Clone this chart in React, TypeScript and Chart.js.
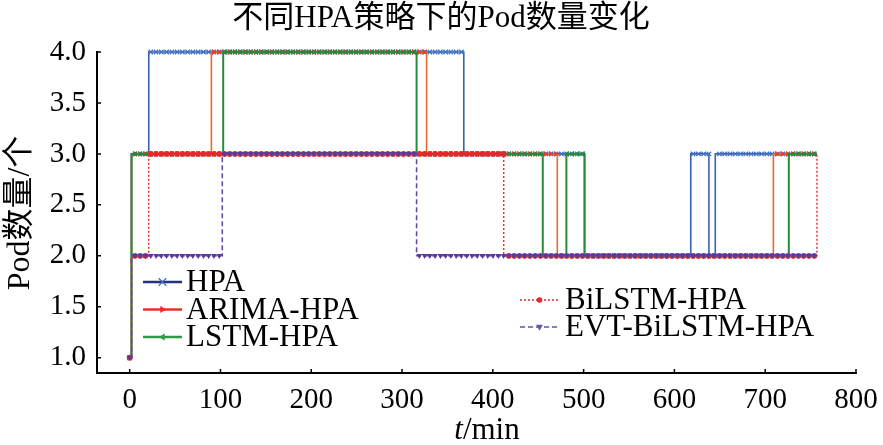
import React, { useEffect, useRef } from 'react';
import { Chart, registerables } from 'chart.js';

Chart.register(...registerables);

// change points of each step series (time in min -> Pod count from that time on)
const hpaTimes = [0, 2, 21, 368, 501, 618, 638, 645, 757];
const hpaPods = [1, 3, 4, 3, 2, 3, 2, 3, 3];
const arimaTimes = [0, 2, 90, 327, 471, 709, 757];
const arimaPods = [1, 3, 4, 3, 2, 3, 3];
const lstmTimes = [0, 2, 103, 316, 455, 481, 501, 726, 757];
const lstmPods = [1, 3, 4, 3, 2, 3, 2, 3, 3];
const bilstmTimes = [0, 2, 21, 412, 757];
const bilstmPods = [1, 2, 3, 2, 3];
const evtTimes = [0, 2, 102, 316, 757];
const evtPods = [1, 2, 3, 2, 2];

const xTicks = [0, 100, 200, 300, 400, 500, 600, 700, 800];
const yTicks = [1.0, 1.5, 2.0, 2.5, 3.0, 3.5, 4.0];

const FONT = '"Liberation Serif", "Noto Sans CJK SC", serif';
const MARK_STEP = 5.8; // minutes between markers along a line

const toPoints = (ts: number[], vs: number[]) => ts.map((t, i) => ({ x: t, y: vs[i] }));

function drawMarker(ctx: CanvasRenderingContext2D, kind: string, x: number, y: number, r: number, color: string, rot = 0) {
  ctx.save();
  ctx.translate(x, y);
  ctx.fillStyle = color;
  ctx.strokeStyle = color;
  ctx.setLineDash([]);
  if (kind === 'cross') {
    ctx.lineWidth = 1.3;
    ctx.beginPath();
    ctx.moveTo(-r, -r); ctx.lineTo(r, r);
    ctx.moveTo(-r, r); ctx.lineTo(r, -r);
    ctx.stroke();
  } else if (kind === 'circle') {
    ctx.beginPath();
    ctx.arc(0, 0, r, 0, Math.PI * 2);
    ctx.fill();
  } else {
    ctx.rotate((rot * Math.PI) / 180);
    ctx.beginPath();
    ctx.moveTo(0, -r);
    ctx.lineTo(r * 0.9, r * 0.6);
    ctx.lineTo(-r * 0.9, r * 0.6);
    ctx.closePath();
    ctx.fill();
  }
  ctx.restore();
}

const markerPlugin = {
  id: 'markers',
  afterDatasetDraw(chart: any, args: any) {
    const ds = chart.data.datasets[args.index];
    const pts = ds.data as { x: number; y: number }[];
    const ctx = chart.ctx;
    const xs = chart.scales.x;
    const ys = chart.scales.y;
    const end = pts[pts.length - 1].x;
    for (let t = 0; t <= end; t += MARK_STEP) {
      let v = pts[0].y;
      for (const p of pts) if (p.x <= t) v = p.y;
      drawMarker(ctx, ds.markKind, xs.getPixelForValue(t), ys.getPixelForValue(v), ds.markSize, ds.markColor, ds.markRot);
    }
  },
};

const legendA = [
  { label: 'HPA', line: '#27307a', mark: '#3f6fc0', kind: 'cross', rot: 0, dash: [] as number[] },
  { label: 'ARIMA-HPA', line: '#e8302a', mark: '#e8302a', kind: 'tri', rot: 90, dash: [] as number[] },
  { label: 'LSTM-HPA', line: '#2f9a48', mark: '#2f9a48', kind: 'tri', rot: -90, dash: [] as number[] },
];
const legendB = [
  { label: 'BiLSTM-HPA', line: '#e02a2a', mark: '#e02a2a', kind: 'circle', rot: 0, dash: [2, 2] },
  { label: 'EVT-BiLSTM-HPA', line: '#5a5aa8', mark: '#5a5aa8', kind: 'tri', rot: 180, dash: [5, 3] },
];

const decorPlugin = {
  id: 'decor',
  afterDraw(chart: any) {
    const ctx: CanvasRenderingContext2D = chart.ctx;
    const { left, bottom } = chart.chartArea;
    const xs = chart.scales.x;
    const ys = chart.scales.y;
    ctx.save();
    // inward tick marks
    ctx.strokeStyle = '#000';
    ctx.lineWidth = 1.5;
    ctx.beginPath();
    for (const v of yTicks) {
      const py = ys.getPixelForValue(v);
      ctx.moveTo(left, py);
      ctx.lineTo(left + 4, py);
    }
    for (const v of xTicks) {
      const px = xs.getPixelForValue(v);
      ctx.moveTo(px, bottom);
      ctx.lineTo(px, bottom - 4);
    }
    ctx.stroke();

    ctx.fillStyle = '#000';
    // title
    ctx.font = `31px ${FONT}`;
    ctx.textAlign = 'center';
    ctx.textBaseline = 'middle';
    ctx.fillText('不同HPA策略下的Pod数量变化', 441, 19);

    // y title
    ctx.save();
    ctx.translate(21, 213);
    ctx.rotate(-Math.PI / 2);
    ctx.font = `32px ${FONT}`;
    ctx.fillText('Pod数量/个', 0, 0);
    ctx.restore();

    // x title with italic t
    ctx.font = `italic 31px ${FONT}`;
    const wT = ctx.measureText('t').width;
    ctx.font = `31px ${FONT}`;
    const wR = ctx.measureText('/min').width;
    const x0 = 487 - (wT + wR) / 2;
    ctx.textAlign = 'left';
    ctx.font = `italic 31px ${FONT}`;
    ctx.fillText('t', x0, 431);
    ctx.font = `31px ${FONT}`;
    ctx.fillText('/min', x0 + wT, 431);

    // legends
    const drawLegend = (items: typeof legendA, lx: number, tx: number, y0: number, gap: number, lw: number) => {
      items.forEach((it, i) => {
        const y = y0 + i * gap;
        ctx.strokeStyle = it.line;
        ctx.lineWidth = lw;
        ctx.setLineDash(it.dash);
        ctx.beginPath();
        ctx.moveTo(lx, y);
        ctx.lineTo(lx + 39, y);
        ctx.stroke();
        ctx.setLineDash([]);
        drawMarker(ctx, it.kind, lx + 19.5, y, it.kind === 'circle' ? 2.8 : 3.8, it.mark, it.rot);
        ctx.fillStyle = '#000';
        ctx.font = `31px ${FONT}`;
        ctx.textAlign = 'left';
        ctx.textBaseline = 'middle';
        ctx.fillText(it.label, tx, y + 1);
      });
    };
    drawLegend(legendA, 143, 186, 282, 27.5, 2.6);
    drawLegend(legendB, 520, 565, 300, 27, 1.6);
    ctx.restore();
  },
};

const App: React.FC = () => {
  const chartRef = useRef<HTMLCanvasElement>(null);
  const chartInstance = useRef<Chart | null>(null);

  useEffect(() => {
    if (chartInstance.current) {
      chartInstance.current.destroy();
    }
    if (chartRef.current) {
      const ctx = chartRef.current.getContext('2d');
      if (ctx) {
        // @ts-ignore
        chartInstance.current = new Chart(ctx, {
          type: 'line',
          data: {
            datasets: [
              {
                label: 'HPA', data: toPoints(hpaTimes, hpaPods), borderColor: '#3a62b0', borderWidth: 1.6,
                order: 5, markKind: 'cross', markSize: 2.2, markColor: '#3f6fc0', markRot: 0,
              },
              {
                label: 'ARIMA-HPA', data: toPoints(arimaTimes, arimaPods), borderColor: '#ea6a2e', borderWidth: 1.6,
                order: 4, markKind: 'tri', markSize: 3.2, markColor: '#e5402a', markRot: 90,
              },
              {
                label: 'LSTM-HPA', data: toPoints(lstmTimes, lstmPods), borderColor: '#2a8a3c', borderWidth: 2,
                order: 3, markKind: 'tri', markSize: 3.2, markColor: '#2a8a3c', markRot: -90,
              },
              {
                label: 'BiLSTM-HPA', data: toPoints(bilstmTimes, bilstmPods), borderColor: '#e02a2a', borderWidth: 1.4,
                borderDash: [2, 2], order: 2, markKind: 'circle', markSize: 2.9, markColor: '#e02a2a', markRot: 0,
              },
              {
                label: 'EVT-BiLSTM-HPA', data: toPoints(evtTimes, evtPods), borderColor: '#6a48a8', borderWidth: 1.6,
                borderDash: [5, 3], order: 1, markKind: 'tri', markSize: 3.2, markColor: '#5a3a98', markRot: 180,
              },
            ].map((d) => ({ ...d, stepped: 'before', pointRadius: 0, fill: false, clip: false })),
          },
          options: {
            responsive: false,
            maintainAspectRatio: false,
            animation: false,
            layout: { padding: { top: 52, right: 27, left: 0, bottom: 0 } },
            plugins: { legend: { display: false }, tooltip: { enabled: false }, title: { display: false } },
            scales: {
              x: {
                type: 'linear',
                min: -36,
                max: 800,
                grid: { display: false, drawTicks: false },
                border: { display: true, color: '#000', width: 2 },
                ticks: { color: '#000', font: { family: FONT, size: 29 }, padding: 10, maxRotation: 0 },
                afterBuildTicks: (s: any) => { s.ticks = xTicks.map((v) => ({ value: v })); },
                afterFit: (s: any) => { s.height = 72; s.paddingLeft = 0; s.paddingRight = 0; },
              },
              y: {
                type: 'linear',
                min: 0.85,
                max: 4.0,
                grid: { display: false, drawTicks: false },
                border: { display: true, color: '#000', width: 2 },
                ticks: {
                  color: '#000', font: { family: FONT, size: 29 }, padding: 11,
                  callback: (v: any) => Number(v).toFixed(1),
                },
                afterBuildTicks: (s: any) => { s.ticks = yTicks.map((v) => ({ value: v })); },
                afterFit: (s: any) => { s.width = 97; s.paddingTop = 0; s.paddingBottom = 0; },
              },
            },
          },
          plugins: [markerPlugin, decorPlugin],
        });
      }
    }
    return () => {
      if (chartInstance.current) {
        chartInstance.current.destroy();
        chartInstance.current = null;
      }
    };
  }, []);

  return (
    <div style={{ position: 'absolute', left: 0, top: 0, width: 883, height: 445, background: '#fff' }}>
      <canvas ref={chartRef} width={883} height={445} style={{ width: 883, height: 445 }}></canvas>
    </div>
  );
};

export default App;
